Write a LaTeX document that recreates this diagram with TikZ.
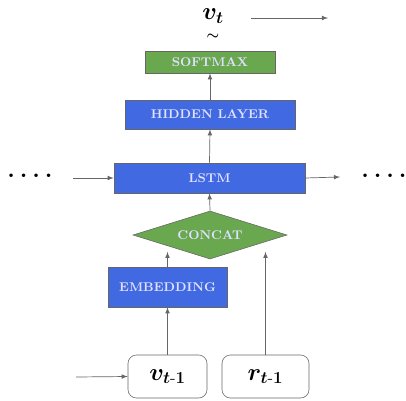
\documentclass[tikz,border=0pt]{standalone}
\usepackage{amsmath,bm}
\usepackage{tikz}
\usetikzlibrary{shapes.geometric}

\definecolor{boxblue}{HTML}{4169E1}
\definecolor{boxgreen}{HTML}{6AA84F}
\definecolor{edgegray}{HTML}{666666}

\newcommand{\dotrow}{{\LARGE\bfseries .\hspace{3.5pt}.\hspace{3.5pt}.\hspace{3.5pt}.}}

\begin{document}
\begin{tikzpicture}[x=0.025cm, y=-0.025cm, >=latex,
  layer/.style={draw=edgegray, fill=boxblue, text=white!88!blue, font=\small\bfseries, inner sep=0pt},
  outbox/.style={layer, fill=boxgreen},
  inbox/.style={draw=edgegray, rounded corners=6pt, fill=white, inner sep=0pt, minimum width=1.975cm, minimum height=1.075cm},
  link/.style={->, draw=edgegray, line width=0.5pt}]
  \useasboundingbox (0,0) rectangle (406,400);
  % stacked layers
  \node[outbox, minimum width=3.25cm, minimum height=0.55cm] (softmax) at (210,62) {SOFTMAX};
  \node[layer, minimum width=4.25cm, minimum height=0.725cm] (hidden) at (210,114.5) {HIDDEN LAYER};
  \node[layer, minimum width=4.775cm, minimum height=0.75cm] (lstm) at (209.5,178) {LSTM};
  \node[outbox, diamond, aspect=3.2, minimum width=3.85cm, minimum height=1.2cm] (concat) at (210,235) {CONCAT};
  \node[layer, minimum width=2.975cm, minimum height=1.0cm] (embed) at (167.5,287) {EMBEDDING};
  % inputs
  \node[inbox] (vin) at (167.5,376.5) {\LARGE$\bm{v_{t\text{-}1}}$};
  \node[inbox, minimum width=2.175cm] (rin) at (265.5,376.5) {\LARGE$\bm{r_{t\text{-}1}}$};
  % output
  \node (vout) at (213,16) {\LARGE$\bm{v_t}$};
  \node (tilde) at (213,37) {$\bm{\sim}$};
  \node (ldots) at (30,176) {\dotrow};
  \node (rdots) at (384,176) {\dotrow};
  \coordinate (vpast) at (76,377);
  \coordinate (lpast) at (73,178);
  \coordinate (lnext) at (340,177);
  \coordinate (voutl) at (251,18);
  \coordinate (voutr) at (328,18);
  % connectors
  \draw[link] (vin) -- (embed);
  \draw[link, shorten >=0.42cm] (embed.north) -- (embed.north |- concat.center);
  \draw[link, shorten >=0.42cm] (rin.north) -- (rin.north |- concat.center);
  \draw[link] (concat.north) -- (lstm.south);
  \draw[link] (lstm.north) -- (hidden.south);
  \draw[link] (hidden.north) -- (softmax.south);
  \draw[link] (vpast) -- (vin.west);
  \draw[link] (lpast) -- (lstm.west);
  \draw[link] (lstm.east) -- (lnext);
  \draw[link] (voutl) -- (voutr);
\end{tikzpicture}
\end{document}
